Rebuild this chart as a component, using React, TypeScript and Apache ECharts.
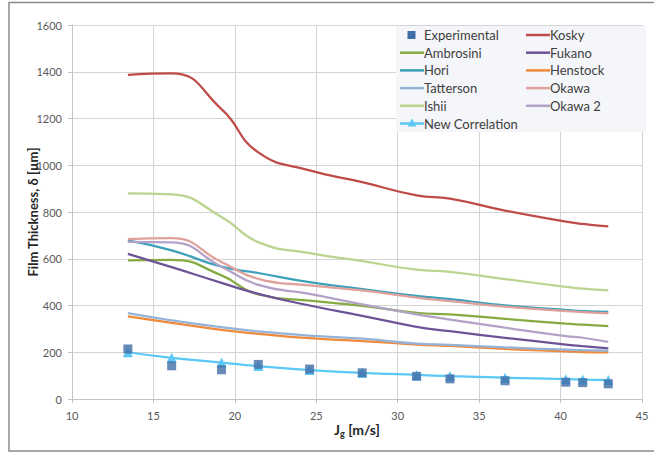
import React, { useEffect, useRef } from 'react';
import * as echarts from 'echarts';

// Gas superficial velocity Jg [m/s]
const jg = [13.43, 16.12, 19.18, 21.44, 24.59, 27.82, 31.16, 33.21, 36.59, 40.32, 41.36, 42.93];
// Film thickness [µm]
const experimental = [214, 142, 125, 148, 128, 112, 97, 86, 78, 72, 70, 65];
const kosky = [1387, 1393, 1240, 1055, 978, 928, 871, 857, 806, 759, 749, 738];
const ambrosini = [593, 595, 529, 447, 421, 398, 369, 362, 343, 322, 318, 312];
const fukano = [621, 564, 497, 450, 400, 356, 309, 290, 262, 233, 226, 217];
const hori = [679, 636, 566, 539, 500, 470, 441, 427, 401, 381, 376, 373];
const henstock = [353, 326, 296, 279, 260, 248, 233, 227, 214, 204, 201, 199];
const tatterson = [367, 336, 307, 289, 271, 258, 237, 232, 221, 211, 209, 207];
const okawa = [684, 688, 586, 514, 486, 465, 434, 419, 395, 376, 372, 366];
const ishii = [880, 875, 779, 671, 624, 590, 553, 544, 513, 480, 472, 465];
const okawa2 = [672, 670, 566, 488, 450, 405, 362, 340, 305, 269, 262, 244];
const newCorrelation = [200, 176, 156, 141, 124, 112, 103, 98, 91, 85, 83, 81];

const xTicks = { min: 10, max: 45, interval: 5 };
const yTicks = { min: 0, max: 1600, interval: 200 };

const curves: { name: string; values: number[]; color: string }[] = [
  { name: 'Kosky', values: kosky, color: '#BE4B48' },
  { name: 'Ambrosini', values: ambrosini, color: '#86AC41' },
  { name: 'Fukano', values: fukano, color: '#6E5496' },
  { name: 'Hori', values: hori, color: '#3CA0BA' },
  { name: 'Henstock', values: henstock, color: '#F08A3A' },
  { name: 'Tatterson', values: tatterson, color: '#95B3D7' },
  { name: 'Okawa', values: okawa, color: '#E0A09C' },
  { name: 'Ishii', values: ishii, color: '#BBD48F' },
  { name: 'Okawa 2', values: okawa2, color: '#B3A2C7' },
];

const expColor = '#416EA8';
const ncColor = '#5BC8F5';

const FONT = 'Lato, "Open Sans", sans-serif';

export default function App() {
  const ref = useRef<HTMLDivElement>(null);
  useEffect(() => {
    if (!ref.current) return;
    const chart = echarts.init(ref.current, undefined, { renderer: 'svg' });

    const legendItems: { name: string; color: string; kind: string }[] = [
      { name: 'Experimental', color: expColor, kind: 'square' },
      ...curves.map((c) => ({ name: c.name, color: c.color, kind: 'line' })),
      { name: 'New Correlation', color: ncColor, kind: 'tri' },
    ];

    const legendGraphics: any[] = [
      {
        type: 'rect',
        shape: { x: 396, y: 26, width: 250, height: 106 },
        style: { fill: '#f4f6f9', stroke: 'none' },
        z: 10,
        silent: true,
      },
    ];
    legendItems.forEach((it, i) => {
      const col = i % 2;
      const row = Math.floor(i / 2);
      const x0 = 400 + col * 126;
      const cy = 35 + row * 17.7;
      if (it.kind === 'square') {
        legendGraphics.push({
          type: 'rect',
          shape: { x: x0 + 7.5, y: cy - 4, width: 8, height: 8 },
          style: { fill: it.color },
          z: 11,
          silent: true,
        });
      } else {
        legendGraphics.push({
          type: 'line',
          shape: { x1: x0, y1: cy, x2: x0 + 24, y2: cy },
          style: { stroke: it.color, lineWidth: 2.5 },
          z: 11,
          silent: true,
        });
        if (it.kind === 'tri') {
          const cx = x0 + 12;
          legendGraphics.push({
            type: 'polygon',
            shape: { points: [[cx, cy - 5], [cx + 4.5, cy + 3], [cx - 4.5, cy + 3]] },
            style: { fill: it.color },
            z: 11,
            silent: true,
          });
        }
      }
      legendGraphics.push({
        type: 'text',
        x: x0 + 24,
        y: cy,
        style: {
          text: it.name,
          fill: '#404040',
          font: `13px ${FONT}`,
          textAlign: 'left',
          textVerticalAlign: 'middle',
        },
        z: 11,
        silent: true,
      });
    });

    const series: any[] = [
      ...curves.map((c) => ({
        name: c.name,
        type: 'line',
        data: jg.map((x, i) => [x, c.values[i]]),
        smooth: 0.5,
        symbol: 'none',
        lineStyle: { color: c.color, width: 2.25 },
        itemStyle: { color: c.color },
        z: 2,
      })),
      {
        name: 'New Correlation',
        type: 'line',
        data: jg.map((x, i) => [x, newCorrelation[i]]),
        smooth: 0.5,
        symbol: 'triangle',
        symbolSize: 10,
        lineStyle: { color: ncColor, width: 2.25 },
        itemStyle: { color: ncColor },
        z: 3,
      },
      {
        name: 'Experimental',
        type: 'scatter',
        data: jg.map((x, i) => [x, experimental[i]]),
        symbol: 'rect',
        symbolSize: 9,
        itemStyle: { color: expColor },
        z: 4,
      },
    ];

    chart.setOption({
      animation: false,
      backgroundColor: '#ffffff',
      grid: { left: 72, right: 12, top: 25, bottom: 53, containLabel: false },
      xAxis: {
        type: 'value',
        min: xTicks.min,
        max: xTicks.max,
        interval: xTicks.interval,
        name: '{j|J}{g|g}{j| [m/s]}',
        nameLocation: 'middle',
        nameGap: 21,
        nameMoveOverlap: false,
        nameTextStyle: {
          rich: {
            j: { fontFamily: FONT, fontSize: 14, fontWeight: 'bold', color: '#262626', lineHeight: 18 },
            g: { fontFamily: FONT, fontSize: 9, fontWeight: 'bold', color: '#262626', lineHeight: 9, verticalAlign: 'bottom' },
          },
        },
        axisLine: { show: true, lineStyle: { color: '#c4c4c4', width: 1 } },
        axisTick: { show: true, inside: false, length: 4, lineStyle: { color: '#c4c4c4' } },
        axisLabel: { color: '#595959', fontFamily: FONT, fontSize: 11, margin: 11 },
        splitLine: { show: true, lineStyle: { color: '#d4d4d4', width: 1 } },
      },
      yAxis: {
        type: 'value',
        min: yTicks.min,
        max: yTicks.max,
        interval: yTicks.interval,
        name: 'Film Thickness, δ [µm]',
        nameLocation: 'middle',
        nameGap: 33,
        nameMoveOverlap: false,
        nameTextStyle: { fontFamily: FONT, fontSize: 13, fontWeight: 'bold', color: '#262626' },
        axisLine: { show: true, lineStyle: { color: '#c4c4c4', width: 1 } },
        axisTick: { show: true, inside: false, length: 4, lineStyle: { color: '#c4c4c4' } },
        axisLabel: {
          color: '#595959',
          fontFamily: FONT,
          fontSize: 11,
          margin: 10,
          formatter: (v: number) => String(v),
        },
        splitLine: { show: true, lineStyle: { color: '#d4d4d4', width: 1 } },
      },
      graphic: [
        {
          type: 'rect',
          shape: { x: 9, y: 2.5, width: 700, height: 448.5 },
          style: { fill: 'none', stroke: '#8a8a8a', lineWidth: 1.5 },
          z: 20,
          silent: true,
        },
        ...legendGraphics,
      ],
      series,
    });

    return () => chart.dispose();
  }, []);

  return (
    <div
      ref={ref}
      style={{ position: 'fixed', left: 0, top: 0, width: 654, height: 452, background: '#fff' }}
    />
  );
}
